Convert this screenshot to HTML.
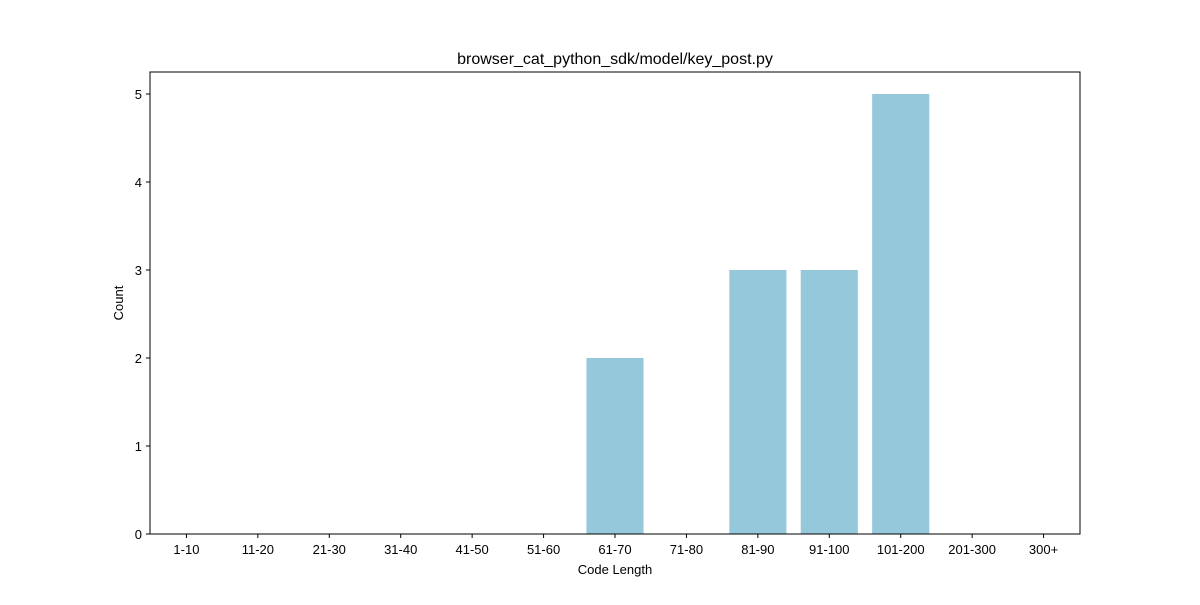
<!DOCTYPE html>
<html><head><meta charset="utf-8"><style>
body{margin:0;background:#fff;}
svg text{font-family:"Liberation Sans","DejaVu Sans",sans-serif;fill:#000;}
</style></head><body>
<svg id="chart" width="1200" height="600" xmlns="http://www.w3.org/2000/svg">
<rect width="1200" height="600" fill="#fff"/>
<text x="615" y="64" text-anchor="middle" font-size="16">browser_cat_python_sdk/model/key_post.py</text>
<g id="bars"></g>
<g id="axes"></g>
<text x="615" y="574" text-anchor="middle" font-size="13">Code Length</text>
<text x="0" y="0" transform="translate(123,303) rotate(-90)" text-anchor="middle" font-size="13">Count</text>
</svg>
<script>
const categories = ["1-10","11-20","21-30","31-40","41-50","51-60","61-70","71-80","81-90","91-100","101-200","201-300","300+"];
const counts = [0,0,0,0,0,0,2,0,3,3,5,0,0];
const yTicks = [0,1,2,3,4,5];

const NS="http://www.w3.org/2000/svg";
const L=150,R=1080,T=72,B=534;
const step=(R-L)/13.02;
function xScale(i){return L+(i+0.51)*step;}
function yScale(v){return B-v*88;}
const bars=document.getElementById('bars'), axes=document.getElementById('axes');
function mk(tag,attrs,parent){const e=document.createElementNS(NS,tag);for(const k in attrs)e.setAttribute(k,attrs[k]);parent.appendChild(e);return e;}

categories.forEach((c,i)=>{
  const v=counts[i];
  const r=mk('rect',{x:xScale(i)-0.4*step,y:yScale(v),width:0.8*step,height:B-yScale(v),fill:'#96c8dc'},bars);
  
  
  const x=xScale(i);
  const t=mk('line',{x1:x,x2:x,y1:B,y2:B+4,stroke:'#000','stroke-width':1},axes);
  
  
  const lb=mk('text',{x:x,y:B+20,'text-anchor':'middle','font-size':13},axes);
  lb.textContent=c;
  
  
});
yTicks.forEach(v=>{
  const y=yScale(v);
  const t=mk('line',{x1:L-4,x2:L,y1:y,y2:y,stroke:'#000','stroke-width':1},axes);
  
  
  const lb=mk('text',{x:L-8,y:y+5,'text-anchor':'end','font-size':13},axes);
  lb.textContent=v;
  
  
});
const frame=mk('rect',{x:L,y:T,width:R-L,height:B-T,fill:'none',stroke:'#000','stroke-width':1},axes);


</script>
</body></html>
